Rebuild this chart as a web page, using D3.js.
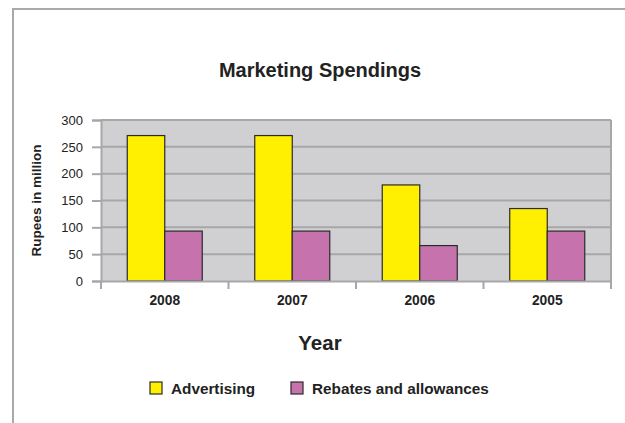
<!DOCTYPE html>
<html>
<head>
<meta charset="utf-8">
<script src="https://cdn.jsdelivr.net/npm/d3@7"></script>
<style>
  html, body { margin: 0; padding: 0; background: #fff; overflow: hidden; }
  svg { display: block; font-family: "Liberation Sans", Arial, sans-serif; }
</style>
</head>
<body>
<svg id="chart" width="625" height="423"></svg>
<script>
// Marketing spend by year, in rupees (million)
const years = ["2008", "2007", "2006", "2005"];
const seriesNames = ["Advertising", "Rebates and allowances"];
const advertising = [271, 271, 179, 135];
const rebates = [93, 93, 66, 93];
const yTicks = [0, 50, 100, 150, 200, 250, 300];
const colors = ["#ffef00", "#c672ad"];

const svg = d3.select("#chart");
const W = 625, H = 423;

// chart frame: top and left edges
svg.append("line")
  .attr("x1", 12).attr("x2", W).attr("y1", 9).attr("y2", 9)
  .attr("stroke", "#a9a9ab").attr("stroke-width", 2);
svg.append("line")
  .attr("x1", 13).attr("x2", 13).attr("y1", 8).attr("y2", H)
  .attr("stroke", "#a9a9ab").attr("stroke-width", 2);

const plot = { left: 101, right: 611, top: 120, bottom: 281 };

const x = d3.scaleBand().domain(years).range([plot.left, plot.right]).paddingInner(0).paddingOuter(0);
const xInner = d3.scaleBand().domain(seriesNames).range([0, x.bandwidth()]).paddingInner(0).paddingOuter(0.7);
const y = d3.scaleLinear().domain([0, 300]).range([plot.bottom, plot.top]);

// plot background
svg.append("rect")
  .attr("x", plot.left).attr("y", plot.top)
  .attr("width", plot.right - plot.left).attr("height", plot.bottom - plot.top)
  .attr("fill", "#d0d0d2");

// horizontal gridlines
svg.append("g")
  .selectAll("line")
  .data(yTicks.filter(d => d > 0))
  .join("line")
  .attr("x1", plot.left).attr("x2", plot.right)
  .attr("y1", d => y(d)).attr("y2", d => y(d))
  .attr("stroke", "#a7a7a9").attr("stroke-width", 2);

// right edge of plot area
svg.append("line")
  .attr("x1", plot.right).attr("x2", plot.right)
  .attr("y1", plot.top).attr("y2", plot.bottom)
  .attr("stroke", "#a7a7a9").attr("stroke-width", 2);

// bars
const rows = years.map((yr, i) => ({ year: yr, values: [advertising[i], rebates[i]] }));
svg.append("g")
  .selectAll("g")
  .data(rows)
  .join("g")
  .attr("transform", d => `translate(${x(d.year)},0)`)
  .selectAll("rect")
  .data(d => d.values.map((v, j) => ({ name: seriesNames[j], value: v, color: colors[j] })))
  .join("rect")
  .attr("x", d => xInner(d.name))
  .attr("y", d => y(d.value))
  .attr("width", xInner.bandwidth())
  .attr("height", d => y(0) - y(d.value))
  .attr("fill", d => d.color)
  .attr("stroke", "#2b2b2b").attr("stroke-width", 1.2);

// y axis
const yAxis = svg.append("g")
  .attr("transform", `translate(${plot.left},0)`)
  .call(d3.axisLeft(y).tickValues(yTicks).tickSize(9).tickPadding(9));
yAxis.select(".domain").attr("stroke", "#a7a7a9").attr("stroke-width", 2);
yAxis.selectAll(".tick line").attr("stroke", "#a7a7a9").attr("stroke-width", 2);
yAxis.selectAll(".tick text").attr("fill", "#222").style("font-size", "13px");

// x axis
const xAxis = svg.append("g")
  .attr("transform", `translate(0,${plot.bottom})`)
  .call(d3.axisBottom(x).tickSize(0).tickPadding(14));
xAxis.select(".domain").attr("stroke", "#a7a7a9").attr("stroke-width", 2);
xAxis.selectAll(".tick text").attr("fill", "#222").style("font-size", "13.8px").style("font-weight", "bold");
// category separators
svg.append("g")
  .selectAll("line")
  .data(years.map(d => x(d)).concat([plot.right]))
  .join("line")
  .attr("x1", d => d).attr("x2", d => d)
  .attr("y1", plot.bottom).attr("y2", plot.bottom + 8)
  .attr("stroke", "#a7a7a9").attr("stroke-width", 2);

// titles
svg.append("text")
  .attr("x", 320).attr("y", 77)
  .attr("text-anchor", "middle")
  .style("font-size", "20px").style("font-weight", "bold").attr("fill", "#222")
  .text("Marketing Spendings");

svg.append("text")
  .attr("x", 320).attr("y", 350)
  .attr("text-anchor", "middle")
  .style("font-size", "20.5px").style("font-weight", "bold").attr("fill", "#222")
  .text("Year");

svg.append("text")
  .attr("transform", `translate(40.5,${(plot.top + plot.bottom) / 2}) rotate(-90)`)
  .attr("text-anchor", "middle")
  .style("font-size", "13.5px").style("font-weight", "bold").attr("fill", "#222")
  .text("Rupees in million");

// legend
const legendItems = [
  { name: seriesNames[0], color: colors[0], x: 150 },
  { name: seriesNames[1], color: colors[1], x: 291 }
];
const lg = svg.append("g").selectAll("g").data(legendItems).join("g")
  .attr("transform", d => `translate(${d.x},382)`);
lg.append("rect")
  .attr("width", 12).attr("height", 12)
  .attr("fill", d => d.color)
  .attr("stroke", "#2b2b2b").attr("stroke-width", 1.2);
lg.append("text")
  .attr("x", 21).attr("y", 11.5)
  .style("font-size", "15.3px").style("font-weight", "bold").attr("fill", "#222")
  .text(d => d.name);
</script>
</body>
</html>
